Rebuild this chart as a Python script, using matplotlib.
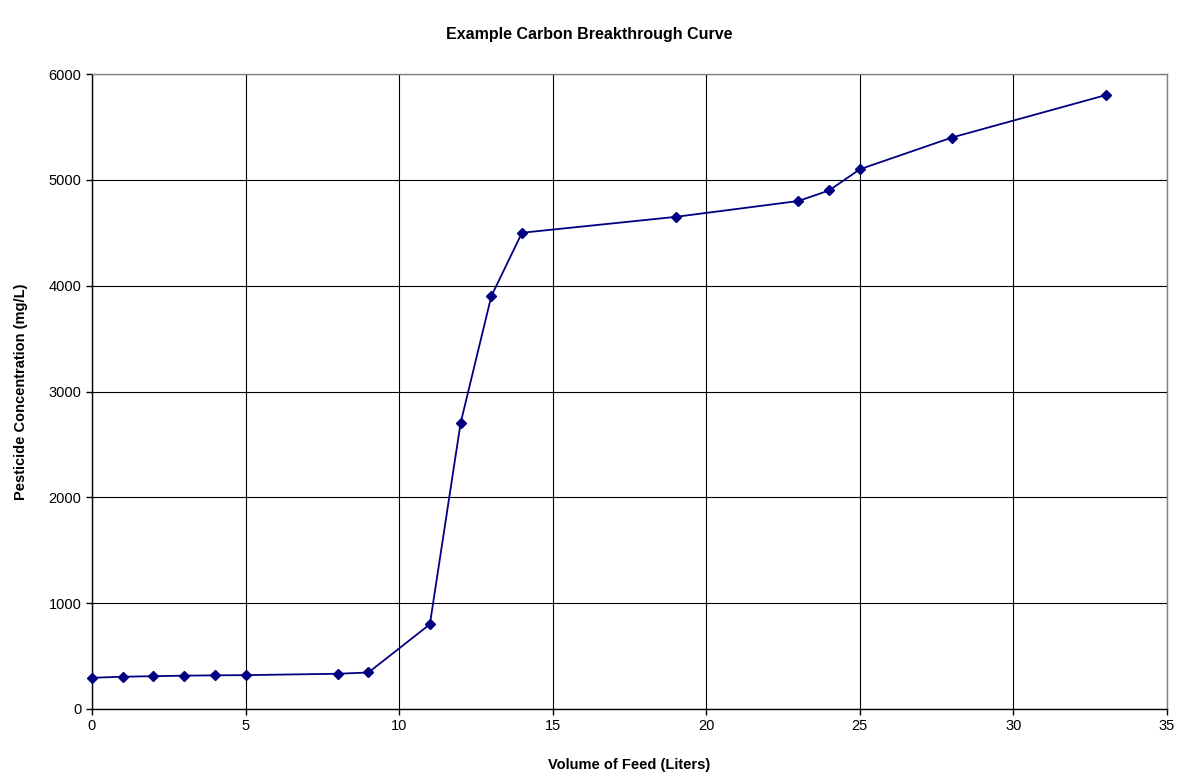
import matplotlib
matplotlib.use('Agg')
import matplotlib.pyplot as plt

plt.rcParams['font.family'] = ['Liberation Sans', 'DejaVu Sans']

volume = [0, 1, 2, 3, 4, 5, 8, 9, 11, 12, 13, 14, 19, 23, 24, 25, 28, 33]
conc = [295, 305, 310, 315, 318, 320, 333, 345, 800, 2700, 3900, 4500,
        4650, 4800, 4900, 5100, 5400, 5800]

fig = plt.figure(figsize=(11.78, 7.77), dpi=100)
ax = fig.add_axes([92/1178, 1 - 709/777, (1167-92)/1178, (709-74)/777])

ax.plot(volume, conc, color='#000080', linewidth=1.3, marker='D',
        markersize=5, markerfacecolor='#000080', markeredgecolor='#000080',
        clip_on=False, zorder=3)

ax.set_xlim(0, 35)
ax.set_ylim(0, 6000)
ax.set_xticks(range(0, 36, 5))
ax.set_yticks(range(0, 6001, 1000))
ax.grid(True, color='black', linewidth=0.8)
ax.set_axisbelow(True)
for s in ax.spines.values():
    s.set_color('#808080')
    s.set_linewidth(1)
ax.spines['left'].set_color('black')
ax.spines['bottom'].set_color('black')
ax.tick_params(direction='out', length=4, width=1, labelsize=10.5, colors='black')

ax.set_xlabel('Volume of Feed (Liters)', fontsize=10.5, fontweight='bold', labelpad=18)
ax.set_ylabel('Pesticide Concentration (mg/L)', fontsize=10.5, fontweight='bold', labelpad=15)
fig.text(0.5, 1 - 35/777, 'Example Carbon Breakthrough Curve', fontsize=11.5,
         fontweight='bold', ha='center', va='center')

fig.savefig('out.png', dpi=100)
